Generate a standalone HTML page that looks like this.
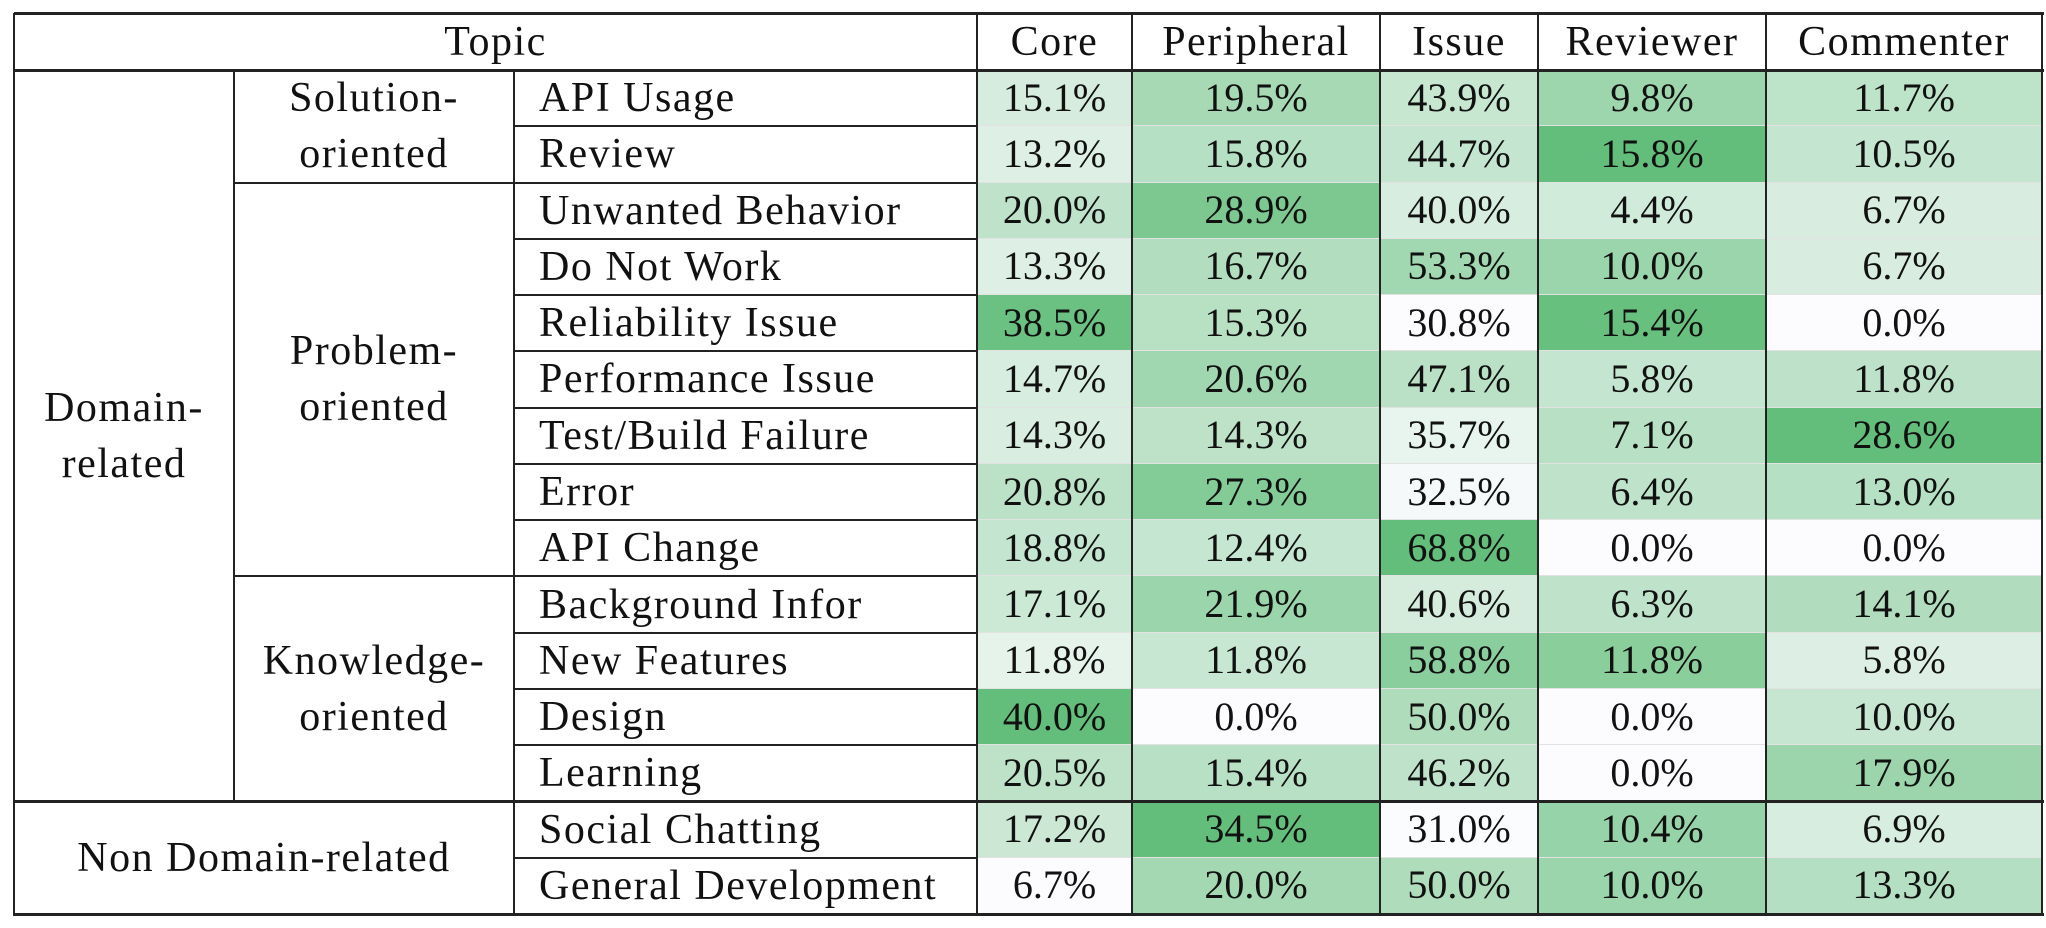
<!DOCTYPE html>
<html><head><meta charset="utf-8">
<style>
html,body{margin:0;padding:0;background:#fff;}
#t{position:relative;width:2046px;height:928px;overflow:hidden;font-family:"Liberation Serif","DejaVu Serif",serif;font-size:40px;color:#111;}
.c{position:absolute;box-sizing:border-box;display:flex;align-items:center;justify-content:center;text-align:center;line-height:56px;}
.tx{font-size:42px;letter-spacing:1.5px;}
.l{justify-content:flex-start;padding-left:25px;}
.hl{position:absolute;background:#222;}
</style></head>
<body>
<div id="t"></div>
<script>
const columns = ["Core","Peripheral","Issue","Reviewer","Commenter"];
const topics = ["API Usage","Review","Unwanted Behavior","Do Not Work","Reliability Issue","Performance Issue","Test/Build Failure","Error","API Change","Background Infor","New Features","Design","Learning","Social Chatting","General Development"];
const coreVals = [15.1,13.2,20.0,13.3,38.5,14.7,14.3,20.8,18.8,17.1,11.8,40.0,20.5,17.2,6.7];
const peripheralVals = [19.5,15.8,28.9,16.7,15.3,20.6,14.3,27.3,12.4,21.9,11.8,0.0,15.4,34.5,20.0];
const issueVals = [43.9,44.7,40.0,53.3,30.8,47.1,35.7,32.5,68.8,40.6,58.8,50.0,46.2,31.0,50.0];
const reviewerVals = [9.8,15.8,4.4,10.0,15.4,5.8,7.1,6.4,0.0,6.3,11.8,0.0,0.0,10.4,10.0];
const commenterVals = [11.7,10.5,6.7,6.7,0.0,11.8,28.6,13.0,0.0,14.1,5.8,10.0,17.9,6.9,13.3];
const series = [coreVals,peripheralVals,issueVals,reviewerVals,commenterVals];

const T = document.getElementById('t');
const colX = [977,1132,1380,1538,1766,2042];
const top0 = 13, hdrB = 70, rowH = (914-70)/15, L = 14, c1 = 234, c2 = 514;
const rowY = i => hdrB + i*rowH;

function cell(x,y,w,h,text,cls){
  const d=document.createElement('div');
  d.className='c'+(cls?' '+cls:'');
  d.style.left=x+'px';d.style.top=y+'px';d.style.width=w+'px';d.style.height=h+'px';
  d.innerHTML=text;
  T.appendChild(d);
  return d;
}
function line(x,y,w,h,col){
  const d=document.createElement('div');
  d.className='hl';
  d.style.left=x+'px';d.style.top=y+'px';d.style.width=w+'px';d.style.height=h+'px';
  if(col)d.style.background=col;
  
  
  T.appendChild(d);
}
function color(v,min,max){
  const t=max>min?(v-min)/(max-min):0;
  const a=[252,252,255],b=[99,190,123];
  return 'rgb('+a.map((x,i)=>Math.round(x+(b[i]-x)*t)).join(',')+')';
}

let h=cell(L,top0,colX[0]-L,hdrB-top0,'Topic','tx');


columns.forEach((c,j)=>{
  const e=cell(colX[j],top0,colX[j+1]-colX[j],hdrB-top0,c,'tx');
  
  
});

series.forEach((vals,j)=>{
  const mn=Math.min(...vals),mx=Math.max(...vals);
  vals.forEach((v,i)=>{
    const e=cell(colX[j],rowY(i),colX[j+1]-colX[j],rowH,v.toFixed(1)+'%');
    e.style.background=color(v,mn,mx);
    e.style.borderBottom='1px solid #e2e2e2';
    
    
  });
});

topics.forEach((tp,i)=>{
  const e=cell(c2,rowY(i),colX[0]-c2,rowH,tp,'l tx');
  
  
});

const groups=[["Solution-<br>oriented",0,2],["Problem-<br>oriented",2,9],["Knowledge-<br>oriented",9,13]];
groups.forEach(g=>{
  const e=cell(c1,rowY(g[1]),c2-c1,rowY(g[2])-rowY(g[1]),g[0],'tx');
  
  
});
let d1=cell(L,rowY(0),c1-L,rowY(13)-rowY(0),'Domain-<br>related','tx');


let d2=cell(L,rowY(13),c2-L,rowY(15)-rowY(13),'Non Domain-related','tx');



const W=colX[5]-L, H=914-top0;
line(L,top0-1,W+2,3);
line(L,hdrB-1,W+2,3);
line(L,rowY(13)-1,W+2,3);
line(L,913,W+2,3);
line(L-1,top0,2,H+2);
line(2041,top0,2,H+2);
[977,1132,1380,1538,1766].forEach(x=>line(x-1,top0,2,H+1));
line(c2-1,hdrB,2,H-(hdrB-top0));
line(c1-1,hdrB,2,rowY(13)-hdrB);
for(let i=1;i<15;i++){ if(i!==13) line(c2,rowY(i)-1,colX[0]-c2,2); }
[2,9].forEach(i=>line(c1,rowY(i)-1,c2-c1,2));
</script>
</body></html>
